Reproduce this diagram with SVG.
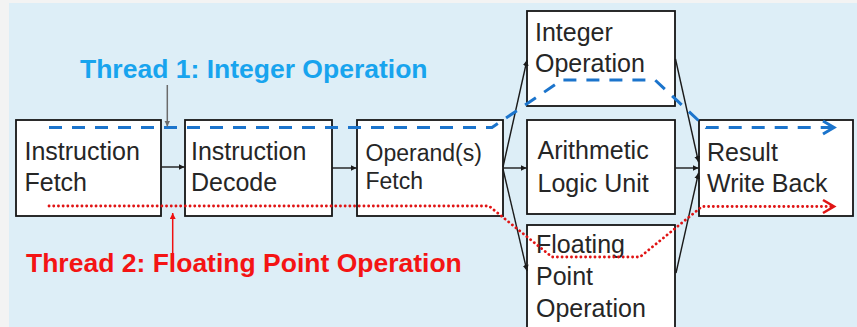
<svg xmlns="http://www.w3.org/2000/svg" width="857" height="327" viewBox="0 0 857 327">
  <defs>
    <style>
      .box { fill: #ffffff; stroke: #151515; stroke-width: 1.8; }
      .lbl { font-family: "Liberation Sans", Arial, sans-serif; font-size: 25px; fill: #262626; }
      .lbl-sm { font-size: 23px; }
      .conn { stroke: #1a1a1a; stroke-width: 1.4; fill: none; marker-end: url(#tip); }
      .t1 { stroke: #1b74cc; stroke-width: 3; fill: none; stroke-dasharray: 13 10; }
      .t2 { stroke: #e01414; stroke-width: 2.8; fill: none; stroke-dasharray: 0.1 4.6; stroke-linecap: round; }
      .cap { font-family: "Liberation Sans", Arial, sans-serif; font-size: 26.5px; font-weight: bold; }
    </style>
    <marker id="tip" markerWidth="8" markerHeight="8" refX="6" refY="3" orient="auto" markerUnits="userSpaceOnUse">
      <path d="M0,0 L6,3 L0,6 Z" fill="#1a1a1a"/>
    </marker>
    <marker id="tipGray" markerWidth="8" markerHeight="8" refX="6" refY="3" orient="auto" markerUnits="userSpaceOnUse">
      <path d="M0,0 L6,3 L0,6 Z" fill="#6b6b6b"/>
    </marker>
    <marker id="tipRed" markerWidth="8" markerHeight="8" refX="6" refY="3" orient="auto" markerUnits="userSpaceOnUse">
      <path d="M0,0 L6,3 L0,6 Z" fill="#f01010"/>
    </marker>
  </defs>

  <!-- backdrop -->
  <rect x="0" y="0" width="857" height="327" fill="#f3f3f3"/>
  <rect x="9" y="3" width="848" height="324" fill="#ddeef7"/>

  <!-- pipeline stages -->
  <g id="instruction-fetch">
    <rect class="box" x="16" y="120" width="145" height="96"/>
    <text class="lbl" x="24.5" y="160">Instruction</text>
    <text class="lbl" x="24.5" y="191">Fetch</text>
  </g>
  <g id="instruction-decode">
    <rect class="box" x="185" y="120" width="147" height="96"/>
    <text class="lbl" x="191" y="160">Instruction</text>
    <text class="lbl" x="191" y="191">Decode</text>
  </g>
  <g id="operand-fetch">
    <rect class="box" x="357" y="120" width="146" height="96"/>
    <text class="lbl lbl-sm" x="365.5" y="161">Operand(s)</text>
    <text class="lbl lbl-sm" x="365.5" y="189">Fetch</text>
  </g>
  <g id="integer-operation">
    <rect class="box" x="527" y="11" width="148" height="95"/>
    <text class="lbl" x="535" y="41">Integer</text>
    <text class="lbl" x="535" y="72">Operation</text>
  </g>
  <g id="alu">
    <rect class="box" x="527" y="120" width="148" height="94"/>
    <text class="lbl" x="537.5" y="158.5">Arithmetic</text>
    <text class="lbl" x="537.5" y="191.5">Logic Unit</text>
  </g>
  <g id="floating-point">
    <rect class="box" x="527" y="225" width="148" height="120"/>
    <text class="lbl" x="536" y="252.5">Floating</text>
    <text class="lbl" x="536" y="285">Point</text>
    <text class="lbl" x="536" y="317">Operation</text>
  </g>
  <g id="result-write-back">
    <rect class="box" x="699" y="120" width="154" height="96"/>
    <text class="lbl" x="707" y="160.5">Result</text>
    <text class="lbl" x="707" y="191.5">Write Back</text>
  </g>

  <!-- stage-to-stage connectors -->
  <g id="connectors">
    <line class="conn" x1="161.5" y1="167" x2="184.5" y2="167"/>
    <line class="conn" x1="332" y1="168" x2="356.5" y2="168"/>
    <line class="conn" x1="503" y1="168" x2="526.5" y2="168"/>
    <line class="conn" x1="503" y1="167" x2="527" y2="60"/>
    <line class="conn" x1="503" y1="169" x2="527" y2="271"/>
    <line class="conn" x1="675.5" y1="59" x2="698.5" y2="162"/>
    <line class="conn" x1="675.5" y1="168" x2="698.5" y2="168"/>
    <line class="conn" x1="676" y1="273" x2="698.5" y2="173"/>
  </g>

  <!-- thread paths -->
  <g id="thread-1">
    <path class="t1" d="M49,127.5 H492 L562,80 H655 L706,127.5 H833"/>
    <path d="M823,121 L834,127.5 L823,134" fill="none" stroke="#1b74cc" stroke-width="3"/>
    <line x1="167.3" y1="85" x2="167.3" y2="126.5" stroke="#6b6b6b" stroke-width="1.5" marker-end="url(#tipGray)"/>
    <text class="cap" x="80" y="78" fill="#18a4ee">Thread 1: Integer Operation</text>
  </g>
  <g id="thread-2">
    <path class="t2" d="M49,206 H489 L552,257 H640 L702,206.5 H833"/>
    <path d="M823,200 L834,206.5 L823,213" fill="none" stroke="#e01414" stroke-width="2.6"/>
    <line x1="172.7" y1="262" x2="172.7" y2="213" stroke="#f01010" stroke-width="1.5" marker-end="url(#tipRed)"/>
    <text class="cap" x="26" y="272" fill="#f41414">Thread 2: Floating Point Operation</text>
  </g>
</svg>
